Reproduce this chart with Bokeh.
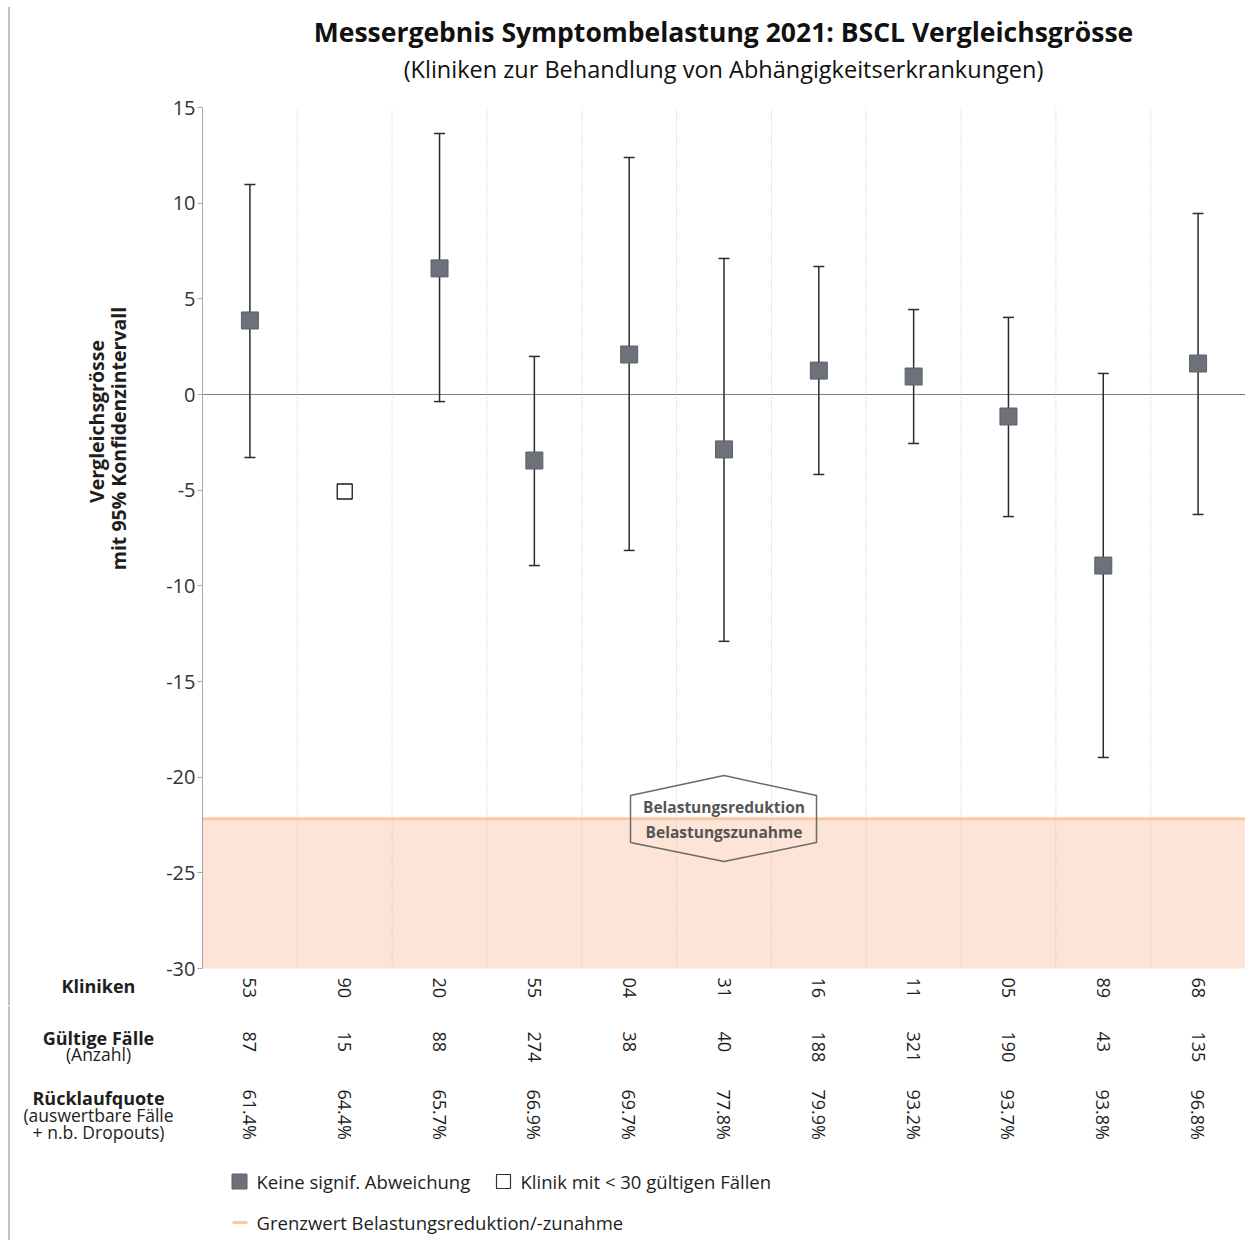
import math
from bokeh.plotting import figure
from bokeh.layouts import row, column
from bokeh.models import (ColumnDataSource, Whisker, TeeHead, Range1d, FixedTicker,
                          Span, BoxAnnotation, Label, LabelSet)
from bokeh.core.properties import value
from bokeh.embed import file_html
from bokeh.resources import INLINE

# ---------------- data ----------------
clinics = ["53", "90", "20", "55", "04", "31", "16", "11", "05", "89", "68"]
estimate = [3.87, -5.07, 6.59, -3.45, 2.09, -2.87, 1.25, 0.94, -1.15, -8.94, 1.62]
ci_upper = [10.98, None, 13.64, 1.99, 12.39, 7.11, 6.69, 4.44, 4.03, 1.10, 9.46]
ci_lower = [-3.29, None, -0.37, -8.94, -8.15, -12.90, -4.18, -2.56, -6.38, -18.97, -6.27]
valid_cases = [87, 15, 88, 274, 38, 40, 188, 321, 190, 43, 135]
response_rate = [61.4, 64.4, 65.7, 66.9, 69.7, 77.8, 79.9, 93.2, 93.7, 93.8, 96.8]
threshold = -22.17
y_ticks = [-30, -25, -20, -15, -10, -5, 0, 5, 10, 15]
min_cases = 30

FONT = "Open Sans"
TXT = "#1e1e1e"
SQ_FILL, SQ_LINE = "#6d727a", "#5b6068"
ORANGE_LINE, ORANGE_FILL = "#fbc8a6", "#fee4d6"
BORDER = "#c4c4c4"

# ---------------- layout helpers (page pixels) ----------------
TOTAL_W, H = 1245, 1240
STRIP_H = 6                  # thin strip carrying the top border line
TOP_H = 1005                 # page y where the chart row ends
LEFT_W = 162                 # side figure with axis title / row labels
AX_W = 40                    # axis panel of main figure
FRAME_L = LEFT_W + AX_W      # page x of the frame's left edge
FRAME_TOP_PX, AXIS_BOT_PX = 107, 968   # page y of 15 and -30
Y_TOP, Y_BOT = 15, -30
PPU = (AXIS_BOT_PX - FRAME_TOP_PX) / (Y_TOP - Y_BOT)
y_end = Y_TOP + (FRAME_TOP_PX - STRIP_H) / PPU
y_start = Y_BOT - (TOP_H - AXIS_BOT_PX) / PPU
CAT_PX = (TOTAL_W - FRAME_L) / len(clinics)

def yp(page_y):
    return Y_TOP - (page_y - FRAME_TOP_PX) / PPU

def xp(page_x):
    return (page_x - FRAME_L) / CAT_PX

def blank(fig):
    fig.xgrid.visible = False
    fig.ygrid.visible = False
    fig.outline_line_color = None

# ---------------- top strip (border) ----------------
t = figure(x_range=Range1d(0, TOTAL_W), y_range=Range1d(STRIP_H, 0), width=TOTAL_W, height=STRIP_H,
           min_border=0, toolbar_location=None, output_backend="svg",
           x_axis_location=None, y_axis_location=None)
blank(t)
t.segment(x0=[8], y0=[4], x1=[TOTAL_W], y1=[4], line_color=BORDER, line_width=2)
t.segment(x0=[8.5], y0=[4], x1=[8.5], y1=[STRIP_H], line_color=BORDER, line_width=2)

# ---------------- main figure ----------------
p = figure(x_range=clinics, y_range=Range1d(y_start, y_end), width=TOTAL_W - LEFT_W,
           height=TOP_H - STRIP_H,
           min_border_left=AX_W, min_border_top=0, min_border_right=0, min_border_bottom=0,
           toolbar_location=None, output_backend="svg", x_axis_location=None)
p.x_range.range_padding = 0
blank(p)

ax = p.yaxis[0]
ax.bounds = (Y_BOT, Y_TOP)
ax.ticker = FixedTicker(ticks=y_ticks)
ax.major_label_overrides = {v: str(v) for v in y_ticks}
ax.axis_line_color = "#a3a8ae"
ax.major_tick_line_color = "#a3a8ae"
ax.major_tick_out = 5
ax.major_tick_in = 0
ax.minor_tick_line_color = None
ax.major_label_text_font = FONT
ax.major_label_text_font_size = "20px"
ax.major_label_text_color = "#333333"
ax.major_label_standoff = 2

# band below threshold
p.add_layout(BoxAnnotation(bottom=Y_BOT, top=threshold, fill_color=ORANGE_FILL, fill_alpha=1,
                           line_color=None, level="underlay"))
p.add_layout(Span(location=threshold, dimension="width", line_color=ORANGE_LINE,
                  line_width=3, level="underlay"))
p.add_layout(Span(location=0, dimension="width", line_color="#7f7f7f",
                  line_width=1, level="underlay"))

# dotted separators between clinics
bounds = list(range(1, len(clinics)))
p.segment(x0=bounds, y0=[Y_BOT] * len(bounds), x1=bounds, y1=[Y_TOP] * len(bounds),
          line_color="#c4c4c4", line_dash="1 2", line_width=1)

# confidence intervals
ci_src = ColumnDataSource(dict(
    x=[c for c, u in zip(clinics, ci_upper) if u is not None],
    upper=[u for u in ci_upper if u is not None],
    lower=[l for l in ci_lower if l is not None]))
p.add_layout(Whisker(base="x", upper="upper", lower="lower", source=ci_src, dimension="height",
                     line_color="#2b2b2b", line_width=1.5, level="underlay",
                     upper_head=TeeHead(size=11, line_color="#2b2b2b", line_width=1.5),
                     lower_head=TeeHead(size=11, line_color="#2b2b2b", line_width=1.5)))

big = [i for i, n in enumerate(valid_cases) if n >= min_cases]
small = [i for i, n in enumerate(valid_cases) if n < min_cases]
p.scatter([clinics[i] for i in big], [estimate[i] for i in big], marker="square", size=17,
          fill_color=SQ_FILL, line_color=SQ_LINE, line_width=1)
p.scatter([clinics[i] for i in small], [estimate[i] for i in small], marker="square", size=15,
          fill_color="white", line_color="#1a1a1a", line_width=1.3)

# hexagon label
cx = len(clinics) / 2
hx = [xp(630), cx, xp(816), xp(816), cx, xp(630)]
hy = [yp(795), yp(775), yp(795), yp(842), yp(861), yp(842)]
p.patch(hx, hy, fill_alpha=0, line_color="#6a6a6a", line_width=1.5)
for txt, py in [("Belastungsreduktion", 806), ("Belastungszunahme", 831)]:
    p.add_layout(Label(x=cx, y=yp(py), text=txt, text_align="center", text_baseline="middle",
                       text_font=FONT, text_font_size="15.5px", text_font_style="bold",
                       text_color="#555555"))

# title
p.add_layout(Label(x=xp(723), y=yp(31), text="Messergebnis Symptombelastung 2021: BSCL Vergleichsgrösse",
                   text_align="center", text_baseline="middle", text_font=FONT,
                   text_font_size="26.5px", text_font_style="bold", text_color="#111111"))
p.add_layout(Label(x=xp(723), y=yp(68), text="(Kliniken zur Behandlung von Abhängigkeitserkrankungen)",
                   text_align="center", text_baseline="middle", text_font=FONT,
                   text_font_size="23.5px", text_color="#111111"))

# clinic ids (first table row) under the frame
id_src = ColumnDataSource(dict(x=clinics, y=[yp(977)] * len(clinics)))
p.add_layout(LabelSet(x="x", y="y", text="x", source=id_src, angle=-math.pi / 2,
                      text_align="left", text_baseline="middle", text_font=value(FONT),
                      text_font_size="18px", text_color=TXT))

# ---------------- side figure (axis title, first row label) ----------------
s = figure(x_range=Range1d(0, LEFT_W), y_range=Range1d(TOP_H, STRIP_H), width=LEFT_W,
           height=TOP_H - STRIP_H, min_border=0, toolbar_location=None, output_backend="svg",
           x_axis_location=None, y_axis_location=None)
blank(s)
s.segment(x0=[8.5], y0=[STRIP_H], x1=[8.5], y1=[TOP_H], line_color=BORDER, line_width=2)

for txt, px, py in [("Vergleichsgrösse", 96, 421), ("mit 95% Konfidenzintervall", 118, 438)]:
    s.add_layout(Label(x=px, y=py, text=txt, angle=math.pi / 2, text_align="center",
                       text_baseline="middle", text_font=FONT, text_font_size="19.5px",
                       text_font_style="bold", text_color=TXT))
s.add_layout(Label(x=98, y=985, text="Kliniken", text_align="center", text_baseline="middle",
                   text_font=FONT, text_font_size="18px", text_font_style="bold", text_color=TXT))

# ---------------- bottom figure (table + legend) ----------------
b = figure(x_range=Range1d(-FRAME_L / CAT_PX, (TOTAL_W - FRAME_L) / CAT_PX),
           y_range=Range1d(H, TOP_H), width=TOTAL_W, height=H - TOP_H,
           min_border=0, toolbar_location=None, output_backend="svg",
           x_axis_location=None, y_axis_location=None)
blank(b)
b.segment(x0=[xp(8.5)], y0=[TOP_H], x1=[xp(8.5)], y1=[H], line_color=BORDER, line_width=2)

centers = [i + 0.5 for i in range(len(clinics))]   # category centres in category units
tab = ColumnDataSource(dict(
    x=centers,
    cases=[str(n) for n in valid_cases],
    resp=[f"{r:.1f}%" for r in response_rate],
    y2=[1031] * len(clinics),
    y3=[1089] * len(clinics)))
for col, ycol in [("cases", "y2"), ("resp", "y3")]:
    b.add_layout(LabelSet(x="x", y=ycol, text=col, source=tab, angle=-math.pi / 2,
                          text_align="left", text_baseline="middle", text_font=value(FONT),
                          text_font_size="18px", text_color=TXT))

row_labels = [("Gültige Fälle", 1037, "bold"), ("(Anzahl)", 1053, "normal"),
              ("Rücklaufquote", 1097, "bold"), ("(auswertbare Fälle", 1114, "normal"),
              ("+ n.b. Dropouts)", 1131, "normal")]
for txt, py, st in row_labels:
    b.add_layout(Label(x=xp(98), y=py, text=txt, text_align="center", text_baseline="middle",
                       text_font=FONT, text_font_size="18px" if st == "bold" else "17.5px",
                       text_font_style=st, text_color=TXT))

# legend
b.scatter([xp(239)], [1181], marker="square", size=15, fill_color=SQ_FILL, line_color=SQ_LINE)
b.add_layout(Label(x=xp(256), y=1181, text="Keine signif. Abweichung", text_align="left",
                   text_baseline="middle", text_font=FONT, text_font_size="18.5px", text_color=TXT))
b.scatter([xp(503)], [1181], marker="square", size=14, fill_color="white",
          line_color="#333333", line_width=1.2)
b.add_layout(Label(x=xp(520), y=1181, text="Klinik mit < 30 gültigen Fällen", text_align="left",
                   text_baseline="middle", text_font=FONT, text_font_size="18.5px", text_color=TXT))
b.segment(x0=[xp(232)], y0=[1222], x1=[xp(247)], y1=[1222], line_color=ORANGE_LINE, line_width=3)
b.add_layout(Label(x=xp(256), y=1222, text="Grenzwert Belastungsreduktion/-zunahme",
                   text_align="left", text_baseline="middle", text_font=FONT,
                   text_font_size="18.5px", text_color=TXT))

layout = column(t, row(s, p), b)
open("out.html", "w").write(file_html(layout, INLINE))
